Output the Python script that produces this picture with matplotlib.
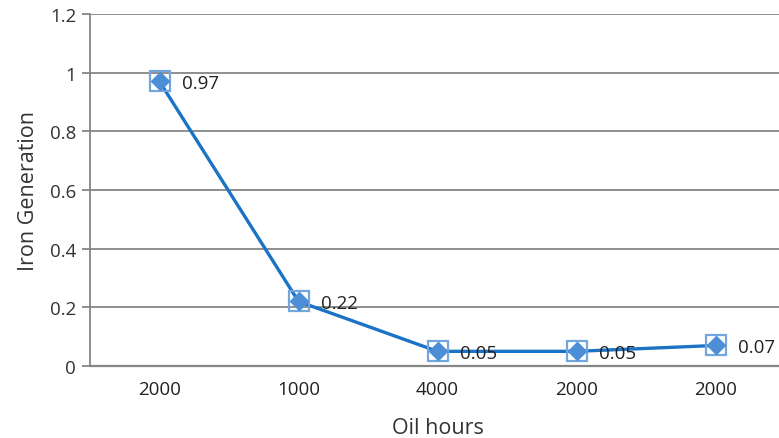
import matplotlib
matplotlib.use("Agg")
import matplotlib.pyplot as plt

categories = ["2000", "1000", "4000", "2000", "2000"]
values = [0.97, 0.22, 0.05, 0.05, 0.07]
value_labels = ["0.97", "0.22", "0.05", "0.05", "0.07"]
yticks = [0, 0.2, 0.4, 0.6, 0.8, 1.0, 1.2]
ytick_labels = ["0", "0.2", "0.4", "0.6", "0.8", "1", "1.2"]

plt.rcParams['font.family'] = ['Open Sans', 'DejaVu Sans']

W, H = 779, 439
fig = plt.figure(figsize=(W / 100, H / 100), dpi=100)
left, right = 90 / W, 785 / W
bottom, top = 1 - 367 / H, 1 - 15 / H
ax = fig.add_axes([left, bottom, right - left, top - bottom])

x = list(range(len(categories)))
ax.set_xlim(-0.5, len(categories) - 0.5)
ax.set_ylim(0, 1.2)

grid_c = "#868686"
ax.set_yticks(yticks)
ax.set_yticklabels(ytick_labels)
ax.yaxis.grid(True, color=grid_c, linewidth=1.3)
ax.set_axisbelow(True)
for s in ["top", "right"]:
    ax.spines[s].set_visible(False)
ax.spines["left"].set_color(grid_c)
ax.spines["left"].set_linewidth(1.3)
ax.spines["bottom"].set_color(grid_c)
ax.spines["bottom"].set_linewidth(1.6)
ax.tick_params(axis="y", length=6, width=1.3, color=grid_c, pad=4,
               labelsize=13.5, labelcolor="#333333")
ax.set_xticks(x)
ax.set_xticklabels(categories)
ax.tick_params(axis="x", length=0, pad=10, labelsize=13.5, labelcolor="#222222")

ax.plot(x, values, color="#1a73c4", linewidth=2.4, zorder=3)
ax.plot(x, values, linestyle="none", marker="s", markersize=15,
        markerfacecolor="none", markeredgecolor="#72a7de", markeredgewidth=1.6, zorder=4)
ax.plot(x, values, linestyle="none", marker="D", markersize=9.5,
        markerfacecolor="#4d8fd6", markeredgecolor="#4d8fd6", zorder=5)

for xi, v, lab in zip(x, values, value_labels):
    ax.annotate(lab, (xi, v), xytext=(16, -1), textcoords="offset points",
                ha="left", va="center", fontsize=13.5, color="#222222", zorder=6)

ax.set_ylabel("Iron Generation", fontsize=15.5, color="#333333", labelpad=8)
ax.set_xlabel("Oil hours", fontsize=15.5, color="#333333", labelpad=14)

fig.savefig("out.png", dpi=100)
